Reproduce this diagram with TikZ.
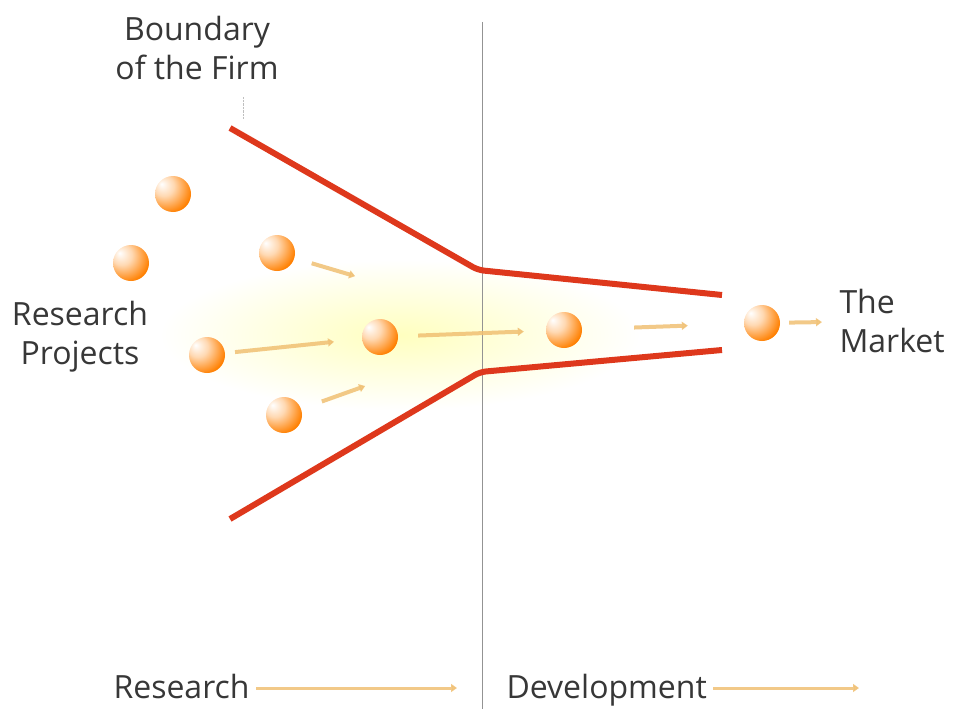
\documentclass[tikz,border=0pt]{standalone}
\usepackage{fontspec}
\setmainfont{Open Sans}
\usetikzlibrary{arrows.meta,positioning}
\definecolor{funnelred}{RGB}{222,56,28}
\definecolor{flowgold}{RGB}{240,192,115}
\definecolor{txtgray}{RGB}{55,55,55}
\pgfdeclareradialshading{orangeball}{\pgfpoint{-16bp}{14bp}}{%
  color(0bp)=(white); color(14bp)=(orange!30!white);
  color(34bp)=(orange); color(52bp)=(orange!75!red);
  color(70bp)=(orange!70!red)}
\begin{document}
\begin{tikzpicture}[
    x=1pt, y=-1pt,
    project/.style={circle, minimum size=36pt, inner sep=0pt,
                    shading=orangeball},
    txt/.style={font=\fontsize{32}{39}\selectfont, text=txtgray, align=center},
    flow/.style={-{Triangle[length=6pt,width=8pt]}, line width=4pt,
                 draw=flowgold, opacity=0.85, shorten <=3pt, shorten >=3pt},
    boundary/.style={draw=funnelred, line width=6pt, rounded corners=6pt}
]
  \useasboundingbox (0,0) rectangle (963,709);

  % glow behind the main stream
  \shade[inner color=yellow!25, outer color=white]
    (400,335) ellipse [x radius=240pt, y radius=75pt];

  % research / development divide
  \coordinate (divTop) at (482,22);
  \coordinate (divBot) at (482,709);
  \draw[gray!85, line width=1pt] (divTop) -- (divBot);

  % boundary of the firm
  \coordinate (ut) at (230,128);
  \coordinate (ub) at (478,270);
  \coordinate (ue) at (722,295);
  \coordinate (lt) at (230,519);
  \coordinate (lb) at (480,372);
  \coordinate (le) at (722,350);
  \draw[boundary] (ut) -- (ub) -- (ue);
  \draw[boundary] (lt) -- (lb) -- (le);

  \node[txt] (firm) at (197,48) {Boundary\\of the Firm};
  \coordinate (leadTop) at (243,97);
  \coordinate (leadBot) at (243,119);
  \draw[densely dotted, gray!50] (leadTop) -- (leadBot);

  % projects
  \node[project] (p1) at (173,194) {};
  \node[project] (p2) at (131,263) {};
  \node[project] (p3) at (277,253) {};
  \node[project] (p4) at (207,355) {};
  \node[project] (p5) at (380,337) {};
  \node[project] (p6) at (564,330) {};
  \node[project] (p7) at (762,323) {};
  \node[project] (p8) at (284,415) {};

  \node[txt] (projects) at (80,337) {Research\\Projects};
  \node[txt, anchor=west, align=left] (market) at (836,321) {The\\Market};

  % flow of projects
  \coordinate (f3) at (358,277);
  \coordinate (f8) at (368,385);
  \draw[flow, shorten <=18pt] (p3) -- (f3);
  \draw[flow, shorten <=22pt] (p8) -- (f8);
  \draw[flow, shorten <=10pt, shorten >=28pt] (p4) -- (p5);
  \draw[flow, shorten <=20pt, shorten >=22pt] (p5) -- (p6);
  \draw[flow, shorten <=52pt, shorten >=56pt] (p6) -- (p7);
  \draw[flow, shorten <=9pt, shorten >=14pt] (p7) -- (market);

  % stages
  \node[txt, anchor=base west] (research) at (110,698) {Research};
  \node[txt, anchor=base west] (development) at (503,698) {Development};
  \coordinate (rEnd) at (460,688);
  \coordinate (dEnd) at (862,688);
  \draw[flow, line width=3pt] (research.east |- rEnd) -- (rEnd);
  \draw[flow, line width=3pt] (development.east |- dEnd) -- (dEnd);
\end{tikzpicture}
\end{document}
